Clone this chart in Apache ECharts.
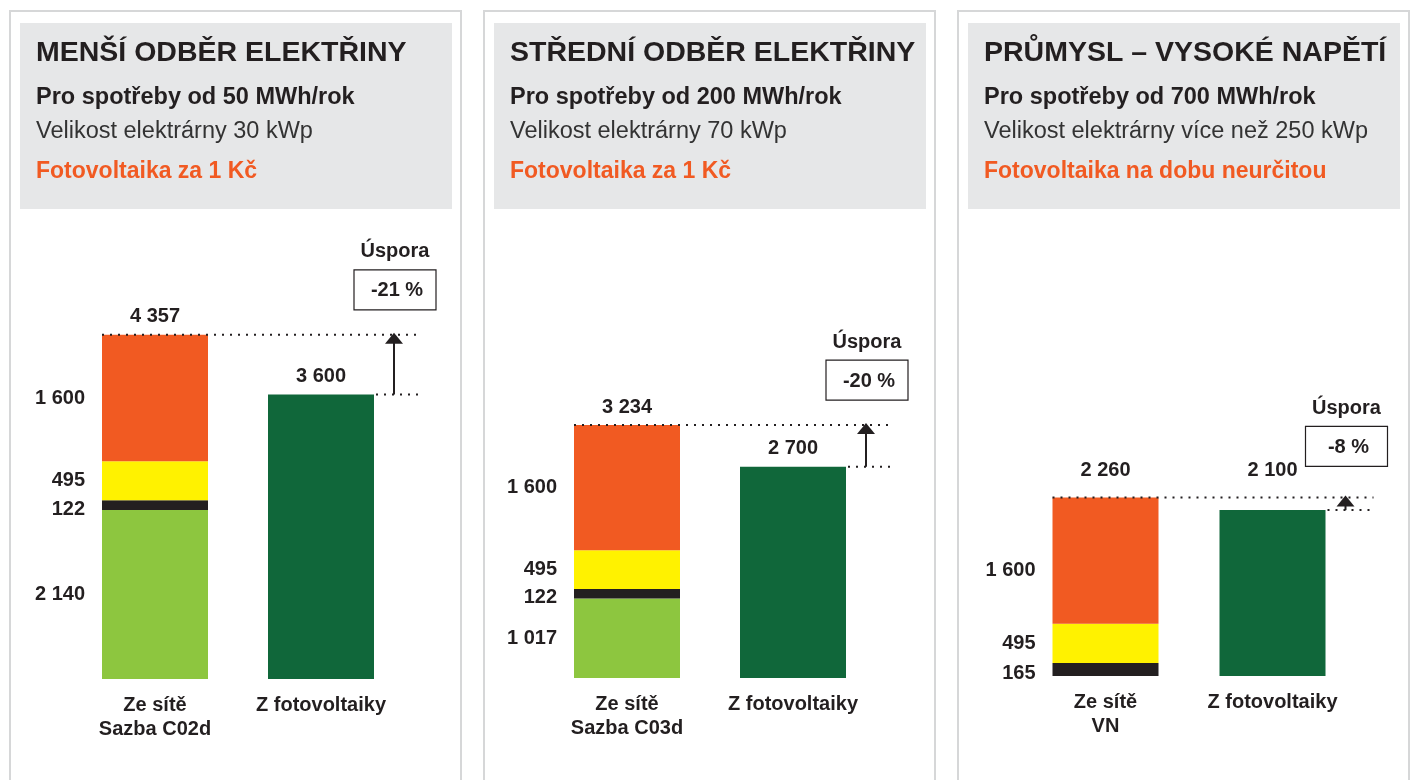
<!DOCTYPE html>
<html>
<head>
<meta charset="utf-8">
<script src="https://cdn.jsdelivr.net/npm/echarts@6/dist/echarts.min.js"></script>
<style>
  html, body { margin: 0; padding: 0; background: #fff; }
  #main { width: 1410px; height: 780px; }
</style>
</head>
<body>
<div id="main"></div>
<script>
// texty hlavicek
var panelTitles = ['MENŠÍ ODBĚR ELEKTŘINY', 'STŘEDNÍ ODBĚR ELEKTŘINY', 'PRŮMYSL – VYSOKÉ NAPĚTÍ'];
var panelUsage = ['Pro spotřeby od 50 MWh/rok', 'Pro spotřeby od 200 MWh/rok', 'Pro spotřeby od 700 MWh/rok'];
var panelPlant = ['Velikost elektrárny 30 kWp', 'Velikost elektrárny 70 kWp', 'Velikost elektrárny více než 250 kWp'];
var panelOffer = ['Fotovoltaika za 1 Kč', 'Fotovoltaika za 1 Kč', 'Fotovoltaika na dobu neurčitou'];

// kategorie
var gridCategories = ['Ze sítě\nSazba C02d', 'Ze sítě\nSazba C03d', 'Ze sítě\nVN'];
var pvCategory = 'Z fotovoltaiky';

// slozky ceny ze site (odspodu nahoru)
var segGreen = [2140, 1017, null];
var segBlack = [122, 122, 165];
var segYellow = [495, 495, 495];
var segOrange = [1600, 1600, 1600];
// cena z fotovoltaiky
var pvValues = [3600, 2700, 2100];
var savings = ['-21 %', '-20 %', '-8 %'];
var savingTitle = 'Úspora';

var FONT = "'Liberation Sans', Arial, Helvetica, sans-serif";
var DARK = '#231f20';
var panelLeft = [10, 484, 958];
var gridLeft = [72, 544, 1022];
var gridBottom = [679, 678, 676];
var gridH = [395, 391, 395];
var orangeShift = [0, 0, 10];
var BAR_W = 106;

function fmt(v) {
    return String(v).replace(/\B(?=(\d{3})+(?!\d))/g, ' ');
}

var chart = echarts.init(document.getElementById('main'));

var grids = [], xAxes = [], yAxes = [], series = [], graphics = [];

function segSeries(i, name, arr, color, shift) {
    return {
        name: name,
        type: 'bar',
        xAxisIndex: i,
        yAxisIndex: i,
        stack: 'p' + i,
        barWidth: BAR_W,
        itemStyle: { color: color },
        label: {
            show: true,
            position: 'left',
            distance: 17,
            offset: [0, shift || 0],
            color: DARK,
            fontSize: 20,
            fontWeight: 'bold',
            fontFamily: FONT,
            formatter: function (p) { return fmt(p.value); }
        },
        data: [arr[i], null]
    };
}

// anotace: soucet, cara, sipka, uspora
function makeAnnot(i) {
    return function (params, api) {
        var top = api.coord([0, api.value(1)]);
        var pv = api.coord([1, api.value(2)]);
        var half = BAR_W / 2;
        var ax = pv[0] + 73;
        var lineEnd = pv[0] + 101;
        var dash = { stroke: DARK, lineWidth: 2, lineDash: [2, 6], fill: null };
        var boxBottom = top[1] - 25;
        // kdyz jsou sloupce skoro stejne vysoke, popisky jsou v jedne rovine
        var topLblY = top[1] - 18, pvLblY = pv[1] - 18;
        if (pv[1] - top[1] < 30) {
            topLblY = top[1] - 27;
            pvLblY = top[1] - 27;
            boxBottom = top[1] - 31;
        }
        var txt = function (x, y, s) {
            return {
                type: 'text', x: x, y: y,
                style: {
                    text: s, fill: DARK, fontSize: 20, fontWeight: 'bold',
                    fontFamily: FONT, align: 'center', verticalAlign: 'middle'
                }
            };
        };
        return {
            type: 'group',
            children: [
                { type: 'line', shape: { x1: top[0] - half, y1: top[1], x2: lineEnd, y2: top[1] }, style: dash },
                { type: 'line', shape: { x1: pv[0] + half + 2, y1: pv[1], x2: lineEnd, y2: pv[1] }, style: dash },
                { type: 'line', shape: { x1: ax, y1: pv[1], x2: ax, y2: top[1] + 8 }, style: { stroke: DARK, lineWidth: 2 } },
                { type: 'polygon', shape: { points: [[ax - 9, top[1] + 9], [ax + 9, top[1] + 9], [ax, top[1] - 2]] }, style: { fill: DARK } },
                txt(top[0], topLblY, fmt(api.value(1))),
                txt(pv[0], pvLblY, fmt(api.value(2))),
                { type: 'rect', shape: { x: ax + 1 - 41, y: boxBottom - 40, width: 82, height: 40 }, style: { fill: '#fff', stroke: DARK, lineWidth: 1.2 } },
                txt(ax + 3, boxBottom - 19, savings[i]),
                txt(ax + 1, boxBottom - 58, savingTitle)
            ]
        };
    };
}

for (var i = 0; i < 3; i++) {
    var L = panelLeft[i];
    // ramecek a seda hlavicka
    graphics.push({ type: 'rect', z: 0, shape: { x: L, y: 11, width: 451, height: 800 }, style: { fill: '#fff', stroke: '#d6d7d8', lineWidth: 2 } });
    graphics.push({ type: 'rect', z: 1, shape: { x: L + 10, y: 23, width: 432, height: 186 }, style: { fill: '#e6e7e8' } });
    graphics.push({ type: 'text', z: 2, x: L + 26, y: 53, style: { text: panelTitles[i], fill: DARK, font: 'bold 28.5px ' + FONT, verticalAlign: 'middle' } });
    graphics.push({ type: 'text', z: 2, x: L + 26, y: 98, style: { text: panelUsage[i], fill: DARK, font: 'bold 23.5px ' + FONT, verticalAlign: 'middle' } });
    graphics.push({ type: 'text', z: 2, x: L + 26, y: 132, style: { text: panelPlant[i], fill: '#333333', font: '23.5px ' + FONT, verticalAlign: 'middle' } });
    graphics.push({ type: 'text', z: 2, x: L + 26, y: 172, style: { text: panelOffer[i], fill: '#f15a22', font: 'bold 23px ' + FONT, verticalAlign: 'middle' } });

    grids.push({ left: gridLeft[i], top: gridBottom[i] - gridH[i], width: i === 2 ? 334 : 332, height: gridH[i] });
    xAxes.push({
        gridIndex: i,
        type: 'category',
        data: [gridCategories[i], pvCategory],
        axisLine: { show: false },
        axisTick: { show: false },
        axisLabel: { interval: 0, hideOverlap: false, color: DARK, fontSize: 20, fontWeight: 'bold', fontFamily: FONT, lineHeight: 24, margin: 14 }
    });
    yAxes.push({ gridIndex: i, type: 'value', min: 0, max: 5000, show: false });

    series.push(segSeries(i, 'zelena', segGreen, '#8dc63f'));
    series.push(segSeries(i, 'cerna', segBlack, DARK, 4));
    series.push(segSeries(i, 'zluta', segYellow, '#fff200'));
    series.push(segSeries(i, 'oranzova', segOrange, '#f15a22', orangeShift[i]));
    series.push({
        name: 'fotovoltaika',
        type: 'bar',
        xAxisIndex: i,
        yAxisIndex: i,
        stack: 'p' + i,
        barWidth: BAR_W,
        itemStyle: { color: '#10673a' },
        data: [null, pvValues[i]]
    });
    var total = (segGreen[i] || 0) + segBlack[i] + segYellow[i] + segOrange[i];
    series.push({
        type: 'custom',
        xAxisIndex: i,
        yAxisIndex: i,
        z: 5,
        renderItem: makeAnnot(i),
        encode: { x: 0, y: 1 },
        data: [[0, total, pvValues[i]]]
    });
}

var option = {
    animation: false,
    backgroundColor: '#fff',
    graphic: graphics,
    grid: grids,
    xAxis: xAxes,
    yAxis: yAxes,
    series: series
};

chart.setOption(option);
</script>
</body>
</html>
